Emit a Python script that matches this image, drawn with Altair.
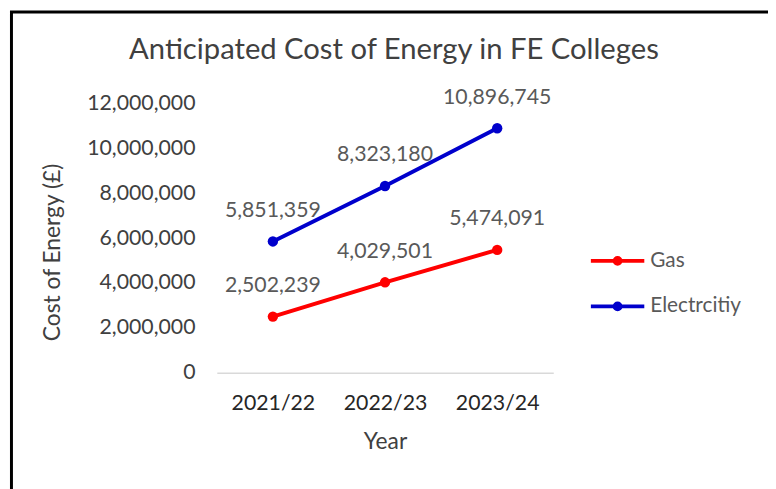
import altair as alt
import pandas as pd

years = ["2021/22", "2022/23", "2023/24"]
series = ["Gas", "Electrcitiy"]
gas = [2502239, 4029501, 5474091]
electricity = [5851359, 8323180, 10896745]
colors = ["#FF0000", "#0000CC"]
y_ticks = [0, 2000000, 4000000, 6000000, 8000000, 10000000, 12000000]

rows = []
for name, vals in zip(series, [gas, electricity]):
    for yr, v in zip(years, vals):
        rows.append({"Year": yr, "Series": name, "Value": v})
df = pd.DataFrame(rows)

FONT = "Lato"

x_enc = alt.X("Year:N", sort=years,
              scale=alt.Scale(padding=0.5),
              axis=alt.Axis(title="Year", labelAngle=0, ticks=False, grid=False,
                            domainColor="#d9d9d9", domainWidth=1.5,
                            labelFont=FONT, labelFontSize=21.5, labelColor="#262626",
                            labelPadding=20,
                            titleFont=FONT, titleFontSize=23, titleColor="#404040",
                            titleFontWeight="normal", titleBaseline="middle", titleY=70))
y_enc = alt.Y("Value:Q",
              scale=alt.Scale(domain=[0, 12000000], nice=False),
              axis=alt.Axis(title="Cost of Energy (£)", values=y_ticks, format=",d",
                            domain=False, ticks=False, grid=False,
                            labelFont=FONT, labelFontSize=21.5, labelColor="#404040",
                            labelPadding=22,
                            titleFont=FONT, titleFontSize=23, titleColor="#404040",
                            titleFontWeight="normal", titleBaseline="middle",
                            titleX=-166, titleY=150))
color_enc = alt.Color("Series:N", sort=series,
                      scale=alt.Scale(domain=series, range=colors),
                      legend=alt.Legend(title=None, orient="none", legendX=376, legendY=130,
                                        symbolType="M-1,0L1,0M-0.11,0A0.11,0.11,0,1,0,0.11,0A0.11,0.11,0,1,0,-0.11,0",
                                        symbolSize=2916, symbolStrokeWidth=4,
                                        labelFont=FONT, labelFontSize=21, labelColor="#595959",
                                        labelOffset=4, rowPadding=6))

base = alt.Chart(df).encode(x=x_enc, y=y_enc)

lines = base.mark_line(strokeWidth=4).encode(color=color_enc)
points = base.mark_circle(size=110, opacity=1).encode(
    color=alt.Color("Series:N", sort=series, scale=alt.Scale(domain=series, range=colors)))
labels = base.mark_text(dy=-31, font=FONT, fontSize=21.5, color="#595959").encode(
    text=alt.Text("Value:Q", format=",d"))

frame = alt.Chart(alt.Data(values=[{}])).mark_rect(
    fill=None, stroke="black", strokeWidth=3
).encode(x=alt.value(-207.5), x2=alt.value(700), y=alt.value(-92.5), y2=alt.value(600))

chart = alt.layer(frame, lines, points, labels).properties(
    width=340, height=272,
    autosize=alt.AutoSizeParams(type="none"),
    padding={"left": 211, "top": 94, "right": 217, "bottom": 115},
    title=alt.TitleParams("Anticipated Cost of Energy in FE Colleges", font=FONT, fontSize=29.5,
                          fontWeight="normal", color="#404040", anchor="middle", frame="group",
                          baseline="middle", dx=9, offset=-70),
    background="white",
).configure_view(stroke=None)

chart.save("out.html", embed_options={"renderer": "svg", "actions": False})
